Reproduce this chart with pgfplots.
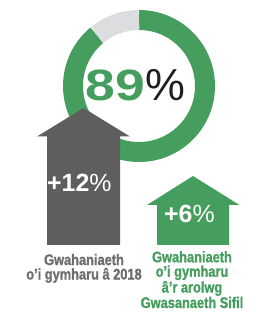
\documentclass[border=0pt]{standalone}
\usepackage{pgfplots}
\pgfplotsset{compat=1.18}
\usepackage{fontspec}
\setmainfont{Liberation Sans}
\newfontface\condb[FakeStretch=0.83,FakeBold=1.2]{Liberation Sans Bold}
\newfontface\wideb[FakeStretch=1.22]{Liberation Sans Bold}
\definecolor{grn}{HTML}{469E5E}
\definecolor{lgray}{HTML}{DCDDDE}
\definecolor{dgray}{HTML}{5E5F5C}
\definecolor{tgray}{HTML}{6D6E70}
\definecolor{pblack}{HTML}{231F20}
\begin{document}
\begin{tikzpicture}
\begin{axis}[x=1bp,y=1bp,xmin=0,xmax=253,ymin=0,ymax=312,
  hide axis,scale only axis,clip=false,anchor=origin,at={(0,0)}]
% donut: 89% agree, 11% rest
\pgfmathsetmacro{\pA}{89}
\pgfmathsetmacro{\endA}{90-\pA*3.6}
\draw[grn,line width=20bp] (axis cs:139,226) ++(90:66bp) arc[start angle=90,end angle=\endA,radius=66bp];
\draw[lgray,line width=20bp] (axis cs:139,226) ++(90:66bp) arc[start angle=90,end angle={\endA+360},radius=66bp];
% arrows (+12 and +6)
\addplot[fill=dgray,draw=none] coordinates {(47,67) (47,175.5) (37,175.5) (83.5,204) (130,175.5) (120,175.5) (120,67)} -- cycle;
\addplot[fill=grn,draw=none] coordinates {(157,67) (157,107) (147,107) (193,136) (239.5,107) (229,107) (229,67)} -- cycle;
% texts
\node[anchor=base west,inner sep=0pt] at (axis cs:85.5,212) {\fontsize{44}{44}\selectfont{\color{grn}\wideb 89}{\color{pblack}\fontsize{45}{45}\selectfont\%}};
\node[anchor=base west,inner sep=0pt,text=white] at (axis cs:47,121) {\fontsize{25}{25}\selectfont\bfseries +12\mdseries\%};
\node[anchor=base west,inner sep=0pt,text=white] at (axis cs:164,90) {\fontsize{25}{25}\selectfont\bfseries +6\mdseries\%};
\node[anchor=base,align=center,inner sep=0pt,text=tgray,font=\condb\fontsize{15.5}{14.5}\selectfont] at (axis cs:84,32.5) {Gwahaniaeth\\o’i gymharu â 2018};
\node[anchor=base,align=center,inner sep=0pt,text=grn,font=\condb\fontsize{15.5}{14.5}\selectfont] at (axis cs:192,4) {Gwahaniaeth\\o’i gymharu\\â’r arolwg\\Gwasanaeth Sifil};
\end{axis}
\pgfresetboundingbox
\path[use as bounding box] (0,0) rectangle (253bp,312bp);
\end{tikzpicture}
\end{document}
